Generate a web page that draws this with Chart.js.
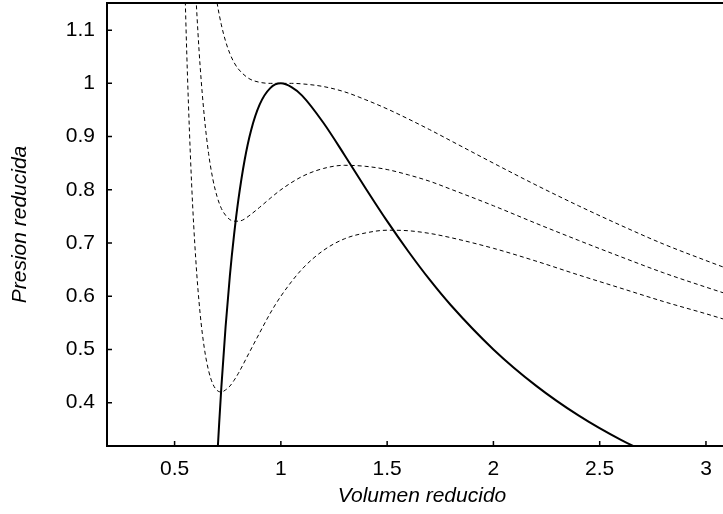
<!DOCTYPE html>
<html>
<head>
<meta charset="utf-8">
<script src="https://cdn.jsdelivr.net/npm/chart.js@4.4.0/dist/chart.umd.min.js"></script>
<style>
html, body { margin: 0; padding: 0; background: #fff; overflow: hidden; }
</style>
</head>
<body>
<canvas id="vdw" width="737" height="514"></canvas>
<script>
// isotermas reducidas (lineas a trazos)
const vT090 = [0.54, 0.55, 0.56, 0.58, 0.60, 0.62, 0.64, 0.66, 0.68, 0.70, 0.72, 0.74, 0.76, 0.78, 0.80, 0.85, 0.90, 0.95, 1.0, 1.1, 1.2, 1.3, 1.4, 1.5, 1.6, 1.7, 1.8, 2.0, 2.2, 2.4, 2.6, 2.8, 3.0, 3.1, 3.2];
const pT090 = [1.325, 1.160, 1.022, 0.812, 0.667, 0.568, 0.502, 0.460, 0.435, 0.423, 0.420, 0.424, 0.431, 0.442, 0.455, 0.493, 0.531, 0.568, 0.600, 0.651, 0.686, 0.708, 0.719, 0.724, 0.723, 0.718, 0.710, 0.690, 0.666, 0.640, 0.615, 0.590, 0.567, 0.555, 0.544];

const vT095 = [0.59, 0.60, 0.61, 0.62, 0.64, 0.66, 0.68, 0.70, 0.72, 0.74, 0.76, 0.78, 0.80, 0.82, 0.85, 0.90, 0.95, 1.0, 1.1, 1.2, 1.3, 1.4, 1.5, 1.6, 1.7, 1.8, 2.0, 2.2, 2.4, 2.6, 2.8, 3.0, 3.1, 3.2];
const pT095 = [1.252, 1.167, 1.095, 1.033, 0.937, 0.868, 0.820, 0.787, 0.765, 0.752, 0.744, 0.741, 0.741, 0.743, 0.751, 0.767, 0.784, 0.800, 0.825, 0.840, 0.846, 0.844, 0.838, 0.828, 0.816, 0.801, 0.770, 0.737, 0.705, 0.674, 0.644, 0.617, 0.604, 0.591];

const vT100 = [0.68, 0.70, 0.72, 0.74, 0.76, 0.78, 0.80, 0.85, 0.90, 0.95, 1.0, 1.05, 1.1, 1.2, 1.3, 1.4, 1.5, 1.6, 1.7, 1.8, 2.0, 2.2, 2.4, 2.6, 2.8, 3.0, 3.1, 3.2];
const pT100 = [1.204, 1.151, 1.110, 1.079, 1.056, 1.039, 1.027, 1.009, 1.002, 1.000, 1.000, 1.000, 0.999, 0.994, 0.984, 0.969, 0.952, 0.933, 0.913, 0.892, 0.850, 0.809, 0.770, 0.733, 0.698, 0.667, 0.652, 0.637];

// curva espinodal (linea continua)
const vSpin = [0.70, 0.71, 0.72, 0.74, 0.76, 0.78, 0.80, 0.83, 0.86, 0.90, 0.95, 1.0, 1.05, 1.1, 1.2, 1.3, 1.4, 1.5, 1.6, 1.7, 1.8, 2.0, 2.2, 2.4, 2.6, 2.8];
const pSpin = [0.292, 0.363, 0.429, 0.543, 0.638, 0.716, 0.781, 0.857, 0.912, 0.960, 0.991, 1.000, 0.993, 0.977, 0.926, 0.865, 0.802, 0.741, 0.684, 0.631, 0.583, 0.500, 0.432, 0.376, 0.330, 0.292];

const xTicks = [0.5, 1, 1.5, 2, 2.5, 3];
const yTicks = [0.4, 0.5, 0.6, 0.7, 0.8, 0.9, 1, 1.1];

const pts = (xs, ys) => xs.map((v, i) => ({x: v, y: ys[i]}));
const FONT = 'Liberation Sans, Arial, Helvetica, sans-serif';

const dashed = (xs, ys) => ({
    data: pts(xs, ys),
    borderColor: '#000',
    borderWidth: 1,
    borderDash: [4, 3],
    pointRadius: 0,
    fill: false,
    cubicInterpolationMode: 'monotone'
});

const frame = {
    id: 'frame',
    afterDatasetsDraw(chart) {
        const ctx = chart.ctx;
        const a = chart.chartArea;
        const x = chart.scales.x, y = chart.scales.y;
        ctx.save();
        ctx.strokeStyle = '#000';
        ctx.lineWidth = 2;
        ctx.beginPath();
        ctx.moveTo(a.left - 1, a.top);
        ctx.lineTo(a.right, a.top);
        ctx.stroke();
        // marcas hacia dentro
        ctx.lineWidth = 1.5;
        ctx.beginPath();
        x.ticks.forEach(t => {
            const px = x.getPixelForValue(t.value);
            ctx.moveTo(px, a.bottom);
            ctx.lineTo(px, a.bottom - 5);
        });
        y.ticks.forEach(t => {
            const py = y.getPixelForValue(t.value);
            ctx.moveTo(a.left, py);
            ctx.lineTo(a.left + 5, py);
        });
        ctx.stroke();
        ctx.restore();
    }
};

new Chart(document.getElementById('vdw').getContext('2d'), {
    type: 'line',
    data: {
        datasets: [
            dashed(vT090, pT090),
            dashed(vT095, pT095),
            dashed(vT100, pT100),
            {
                data: pts(vSpin, pSpin),
                borderColor: '#000',
                borderWidth: 2,
                pointRadius: 0,
                fill: false,
                cubicInterpolationMode: 'monotone'
            }
        ]
    },
    options: {
        responsive: false,
        animation: false,
        devicePixelRatio: 1,
        layout: { padding: { top: 3, right: 0, bottom: 0, left: 0 } },
        plugins: {
            legend: { display: false },
            tooltip: { enabled: false }
        },
        scales: {
            x: {
                type: 'linear',
                min: 0.182,
                max: 3.146,
                afterBuildTicks: s => { s.ticks = xTicks.map(v => ({value: v})); },
                afterFit: s => { s.height = 68; s.paddingLeft = 0; s.paddingRight = 0; },
                ticks: {
                    callback: v => String(v),
                    font: { family: FONT, size: 21 },
                    color: '#000',
                    padding: 11,
                    maxRotation: 0,
                    autoSkip: false
                },
                grid: { display: false, drawTicks: false },
                border: { display: true, color: '#000', width: 2 },
                title: {
                    display: true,
                    text: 'Volumen reducido',
                    font: { family: FONT, size: 21, style: 'italic' },
                    color: '#000',
                    padding: { top: 0, bottom: 5 }
                }
            },
            y: {
                type: 'linear',
                min: 0.3185,
                max: 1.151,
                afterBuildTicks: s => { s.ticks = yTicks.map(v => ({value: v})); },
                afterFit: s => { s.width = 107; s.paddingTop = 0; s.paddingBottom = 0; },
                ticks: {
                    callback: v => String(v),
                    font: { family: FONT, size: 21 },
                    color: '#000',
                    padding: 12,
                    autoSkip: false
                },
                grid: { display: false, drawTicks: false },
                border: { display: true, color: '#000', width: 2 },
                title: {
                    display: true,
                    text: 'Presion reducida',
                    font: { family: FONT, size: 21, style: 'italic' },
                    color: '#000',
                    padding: { top: 8, bottom: 0 }
                }
            }
        }
    },
    plugins: [frame]
});
</script>
</body>
</html>
